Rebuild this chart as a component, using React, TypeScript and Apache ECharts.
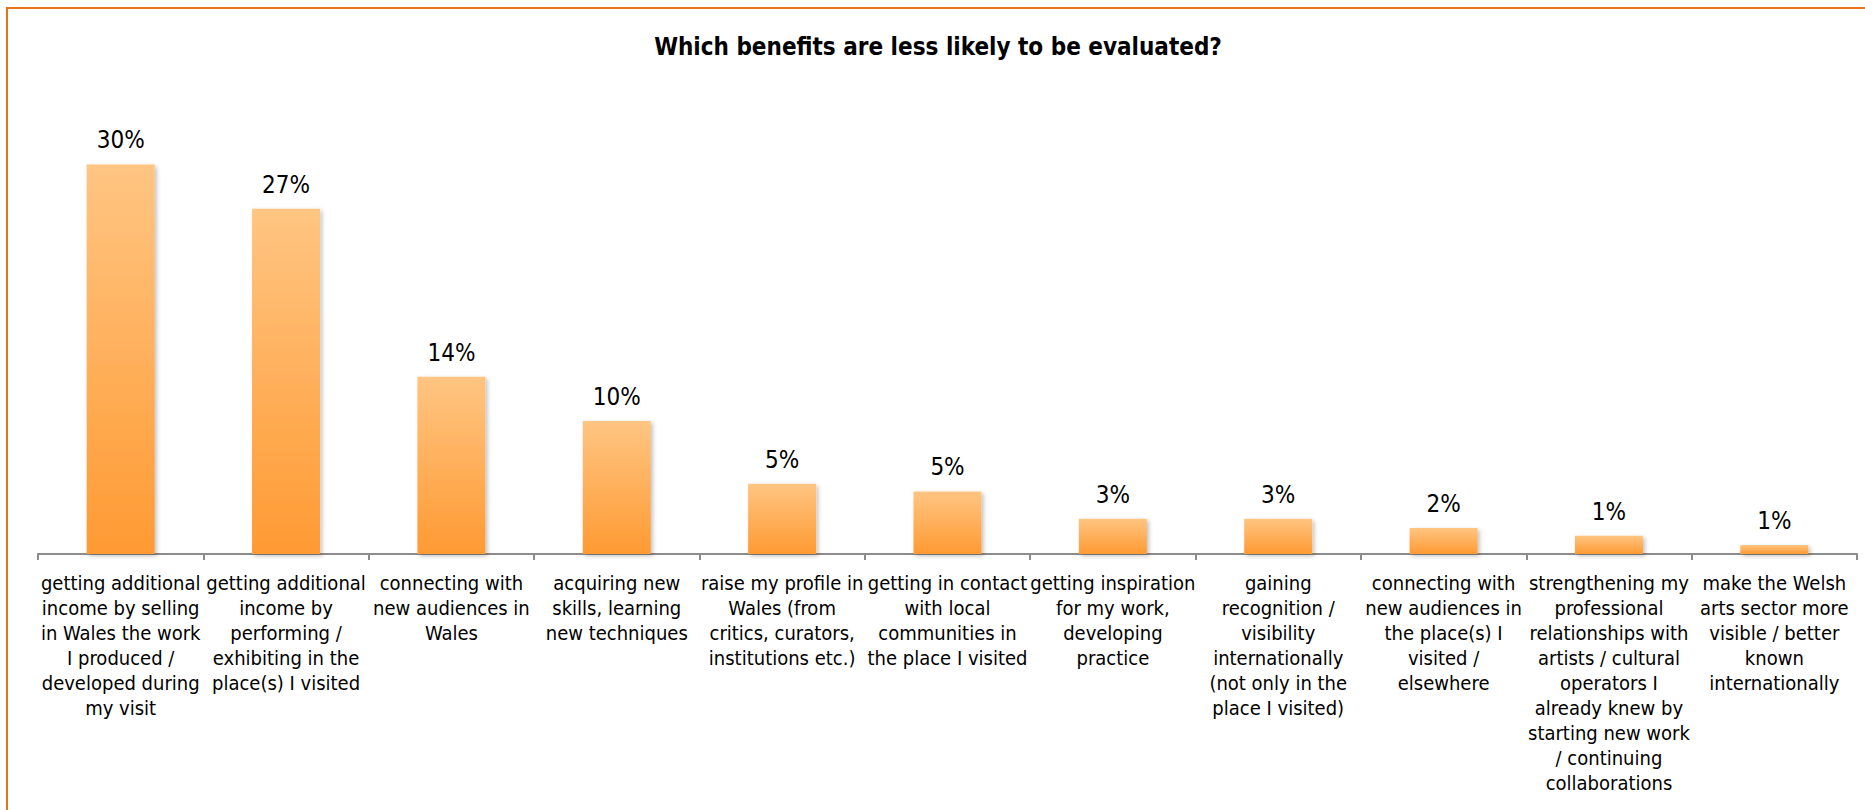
import React, { useEffect, useRef } from "react";
import * as echarts from "echarts";

const TITLE = "Which benefits are less likely to be evaluated?";

const categories: string[] = [
  "getting additional\nincome by selling\nin Wales the work\nI produced /\ndeveloped during\nmy visit",
  "getting additional\nincome by\nperforming /\nexhibiting in the\nplace(s) I visited",
  "connecting with\nnew audiences in\nWales",
  "acquiring new\nskills, learning\nnew techniques",
  "raise my profile in\nWales (from\ncritics, curators,\ninstitutions etc.)",
  "getting in contact\nwith local\ncommunities in\nthe place I visited",
  "getting inspiration\nfor my work,\ndeveloping\npractice",
  "gaining\nrecognition /\nvisibility\ninternationally\n(not only in the\nplace I visited)",
  "connecting with\nnew audiences in\nthe place(s) I\nvisited /\nelsewhere",
  "strengthening my\nprofessional\nrelationships with\nartists / cultural\noperators I\nalready knew by\nstarting new work\n/ continuing\ncollaborations",
  "make the Welsh\narts sector more\nvisible / better\nknown\ninternationally",
];

// Percentages (labels show the rounded value)
const values: number[] = [29.9, 26.5, 13.6, 10.2, 5.4, 4.8, 2.7, 2.7, 2.0, 1.4, 0.7];

const FONT = "'Liberation Sans Narrow', 'DejaVu Sans Condensed', 'Liberation Sans', sans-serif";

export default function App() {
  const ref = useRef<HTMLDivElement>(null);
  useEffect(() => {
    document.body.style.margin = "0";
    const chart = echarts.init(ref.current!, null, { renderer: "svg" });
    chart.setOption({
      animation: false,
      backgroundColor: "#ffffff",
      title: {
        text: TITLE,
        left: 933,
        top: 30,
        textAlign: "center",
        textStyle: { fontFamily: FONT, fontWeight: "bold", fontSize: 24, color: "#000" },
      },
      graphic: [
        {
          type: "rect",
          shape: { x: 7, y: 8, width: 1950, height: 900 },
          style: { fill: "none", stroke: "#E8721C", lineWidth: 2 },
          silent: true,
        },
      ],
      grid: { left: 38, right: 8, top: 98, bottom: 256 },
      xAxis: {
        type: "category",
        data: categories,
        axisLine: { lineStyle: { color: "#8C8C8C", width: 2 } },
        axisTick: { show: true, length: 6, lineStyle: { color: "#8C8C8C", width: 2 } },
        axisLabel: {
          interval: 0,
          margin: 16,
          fontFamily: FONT,
          fontSize: 20,
          lineHeight: 25,
          color: "#000",
          align: "center",
        },
      },
      yAxis: { type: "value", min: 0, max: 35, show: false, splitLine: { show: false } },
      series: [
        {
          type: "bar",
          data: values,
          barWidth: 68,
          itemStyle: {
            color: new echarts.graphic.LinearGradient(0, 0, 0, 1, [
              { offset: 0, color: "#FFC582" },
              { offset: 1, color: "#FF9A33" },
            ]),
            shadowColor: "rgba(0,0,0,0.25)",
            shadowBlur: 4,
            shadowOffsetX: 2,
            shadowOffsetY: 2,
          },
          label: {
            show: true,
            position: "top",
            distance: 12,
            fontFamily: FONT,
            fontSize: 24,
            color: "#000",
            formatter: (p: any) => Math.round(p.value) + "%",
          },
        },
      ],
    });
    return () => chart.dispose();
  }, []);
  return <div ref={ref} style={{ width: 1865, height: 810 }} />;
}
